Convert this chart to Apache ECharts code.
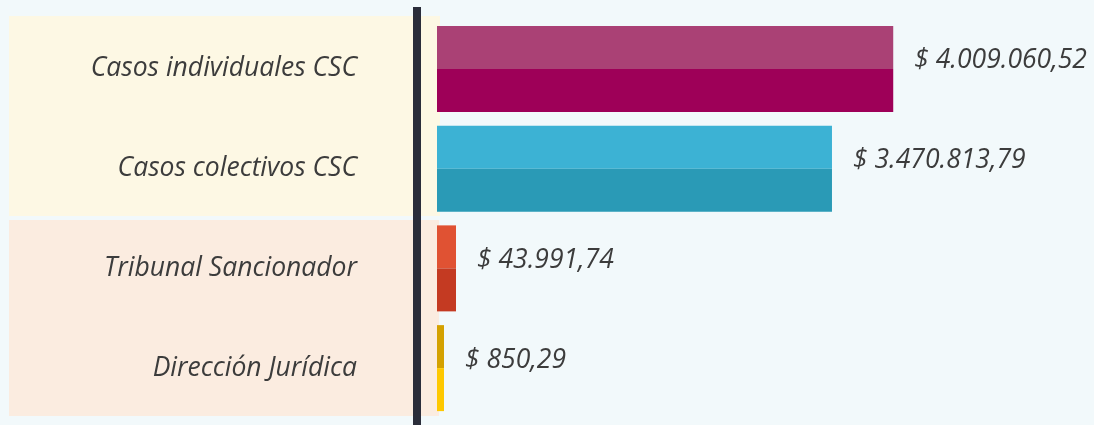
<!DOCTYPE html>
<html>
<head>
<meta charset="utf-8">
<script src="https://cdn.jsdelivr.net/npm/echarts@6/dist/echarts.min.js"></script>
<style>
  html, body { margin: 0; padding: 0; background: #f2f9fb; }
  #main { width: 1094px; height: 425px; }
</style>
</head>
<body>
<div id="main"></div>
<script>
// datos
const categories = ["Casos individuales CSC", "Casos colectivos CSC", "Tribunal Sancionador", "Dirección Jurídica"];
const amounts = [4009060.52, 3470813.79, 43991.74, 850.29];

// colores: mitad superior / mitad inferior
const topColors = ["#aa4175", "#3cb2d4", "#e05233", "#d4a100"];
const bottomColors = ["#9e0058", "#2a9ab6", "#c43a22", "#fec800"];
// ancho minimo visible de cada barra (px)
const minBarPx = [0, 0, 19, 7];

const FONT = "'Open Sans', sans-serif";

function money(v) {
  const parts = v.toFixed(2).split(".");
  const ent = parts[0].replace(/\B(?=(\d{3})+(?!\d))/g, ".");
  return "$ " + ent + "," + parts[1];
}

const myChart = echarts.init(document.getElementById("main"));

myChart.setOption({
  backgroundColor: "#f2f9fb",
  animation: false,
  grid: { left: 437, width: 569, top: 19, height: 399 },
  xAxis: {
    type: "value",
    min: 0,
    max: 5000000,
    show: false
  },
  yAxis: {
    type: "category",
    inverse: true,
    data: categories,
    axisLine: { show: false },
    axisTick: { show: false },
    splitLine: { show: false },
    axisLabel: {
      margin: 80,
      fontFamily: FONT,
      fontStyle: "italic",
      fontSize: 26.5,
      color: "#3c3c3c"
    }
  },
  graphic: [
    // paneles de fondo
    { type: "rect", z: -10, shape: { x: 9, y: 16, width: 431, height: 200 }, style: { fill: "#fdf8e4" } },
    { type: "rect", z: -10, shape: { x: 9, y: 220, width: 430, height: 196 }, style: { fill: "#fbece0" } },
    // linea del eje
    { type: "rect", z: 10, shape: { x: 413, y: 7, width: 8, height: 418 }, style: { fill: "#2a2d3a" } }
  ],
  series: [
    {
      type: "custom",
      data: amounts.map((v, i) => [v, i]),
      encode: { x: 0, y: 1 },
      renderItem: function(params, api) {
        const v = api.value(0);
        const i = api.value(1);
        const start = api.coord([0, i]);
        const end = api.coord([v, i]);
        const w = Math.max(end[0] - start[0], minBarPx[i]);
        const h = 86;
        const y0 = start[1] - h / 2;
        return {
          type: "group",
          children: [
            { type: "rect", shape: { x: start[0], y: y0, width: w, height: h / 2 }, style: { fill: topColors[i] } },
            { type: "rect", shape: { x: start[0], y: y0 + h / 2, width: w, height: h / 2 }, style: { fill: bottomColors[i] } },
            {
              type: "text",
              x: start[0] + w + 21,
              y: start[1] - 8,
              style: {
                text: money(v),
                font: "italic 26.5px " + FONT,
                fill: "#3c3c3c",
                verticalAlign: "middle"
              }
            }
          ]
        };
      }
    }
  ]
});
</script>
</body>
</html>
